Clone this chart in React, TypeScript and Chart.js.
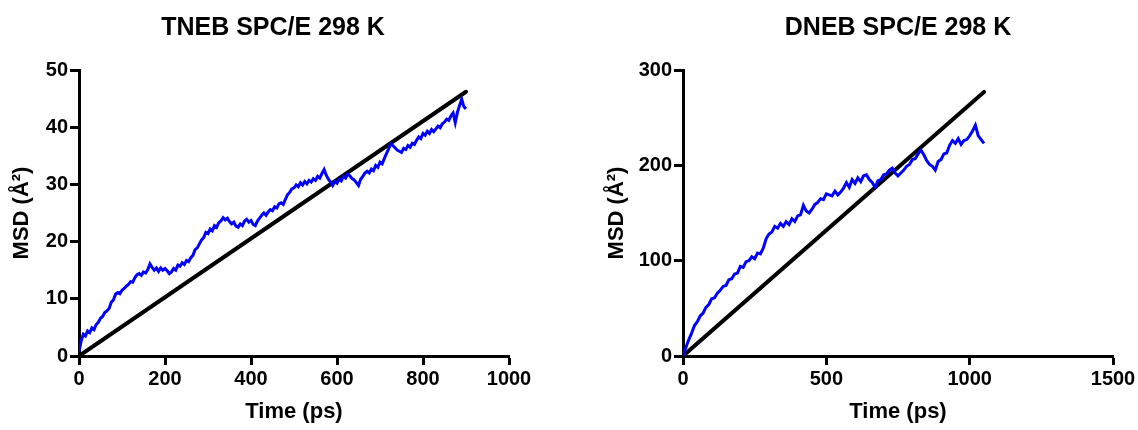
import { useEffect, useRef } from "react";
import { Chart, registerables } from "chart.js";

Chart.register(...registerables);

const FONT = "'Liberation Sans', Arial, Helvetica, sans-serif";

const X_TITLE = "Time (ps)";
const Y_TITLE = "MSD (Å²)";

// ---- TNEB panel ----
const TNEB_TITLE = "TNEB SPC/E 298 K";
const TNEB_DT = 5; // ps between samples
const TNEB_MSD = [
  0.8, 2.6, 3.8, 3.5, 4.4, 4.1, 4.9, 4.6, 5.5, 5.9,
  6.6, 6.9, 7.6, 7.9, 8.3, 9.4, 9.8, 10.8, 11.1, 10.9,
  11.5, 11.8, 12.2, 12.5, 13.0, 12.9, 13.7, 14.2, 14.4, 14.1,
  14.7, 14.5, 15.1, 16.1, 15.5, 15.0, 15.4, 14.8, 15.4, 15.0,
  15.3, 14.9, 14.4, 14.7, 15.3, 15.0, 15.9, 15.7, 16.3, 16.0,
  16.7, 16.5, 17.2, 17.6, 18.6, 18.9, 19.6, 20.3, 20.7, 21.6,
  21.4, 22.2, 21.9, 22.8, 22.5, 23.3, 23.6, 24.2, 23.8, 24.1,
  23.5, 23.1, 23.4, 22.7, 22.5, 23.1, 22.8, 23.6, 23.9, 23.4,
  23.7, 23.0, 22.8, 23.6, 24.1, 24.6, 25.0, 24.6, 25.2, 25.6,
  25.4, 26.1, 25.9, 26.6, 26.8, 26.5, 27.4, 28.2, 28.6, 29.2,
  29.4, 29.9, 29.6, 30.3, 29.9, 30.5, 30.1, 30.7, 30.4, 31.0,
  30.7, 31.4, 31.1, 31.9, 32.6, 31.6, 30.9, 30.4, 29.8, 30.5,
  30.2, 30.9, 30.6, 31.4, 31.1, 31.8, 31.5, 31.0, 30.8, 30.3,
  29.8, 30.9, 31.4, 32.0, 32.3, 32.0, 32.7, 32.4, 33.3, 33.0,
  33.9, 33.6, 34.5, 35.4, 36.2, 37.1, 36.8, 36.4, 36.0, 35.8,
  35.6, 36.3, 36.1, 36.8, 36.5, 37.2, 37.0, 37.7, 38.3, 38.0,
  38.9, 38.6, 39.3, 38.9, 39.6, 39.2, 39.7, 40.2, 39.9, 40.6,
  40.9, 41.4, 41.2, 42.0, 42.5, 40.8, 42.6, 43.8, 44.9, 43.6,
  43.2,
];
const TNEB_FIT_T = [0, 900];
const TNEB_FIT_MSD = [0, 46.2];
const TNEB_X_TICKS = [0, 200, 400, 600, 800, 1000];
const TNEB_Y_TICKS = [0, 10, 20, 30, 40, 50];

// ---- DNEB panel ----
const DNEB_TITLE = "DNEB SPC/E 298 K";
const DNEB_DT = 10; // ps between samples
const DNEB_MSD = [
  0, 9, 17, 24, 32, 36, 42, 45, 51, 54,
  60, 61, 66, 69, 73, 74, 80, 81, 86, 87,
  94, 93, 99, 100, 104, 102, 108, 107, 113, 123,
  128, 130, 136, 134, 139, 136, 141, 138, 144, 141,
  147, 148, 158, 152, 150, 154, 159, 161, 165, 164,
  170, 169, 168, 173, 169, 172, 176, 182, 177, 185,
  181, 187, 183, 189, 190, 185, 182, 177, 184, 185,
  190, 191, 195, 197, 192, 189, 192, 195, 199, 201,
  206, 207, 212, 216, 211, 205, 201, 199, 195, 204,
  206, 212, 213, 221, 226, 223, 228, 222, 226, 227,
  231, 236, 242, 231, 227, 223,
];
const DNEB_FIT_T = [0, 1050];
const DNEB_FIT_MSD = [0, 277];
const DNEB_X_TICKS = [0, 500, 1000, 1500];
const DNEB_Y_TICKS = [0, 100, 200, 300];

type PanelProps = {
  title: string;
  dt: number;
  msd: number[];
  fitT: number[];
  fitMsd: number[];
  xTicks: number[];
  yTicks: number[];
  left: number;
  width: number;
  yAxisWidth: number;
  padRight: number;
  yTitlePad: number;
  titleFull: boolean;
};

function Panel(p: PanelProps) {
  const ref = useRef<HTMLCanvasElement | null>(null);

  useEffect(() => {
    if (!ref.current) return;
    const tickFont = { family: FONT, size: 20, weight: "bold" as const };
    const axisTitleFont = { family: FONT, size: 22, weight: "bold" as const };
    const chart = new Chart(ref.current, {
      type: "line",
      data: {
        datasets: [
          {
            data: p.msd.map((v, i) => ({ x: i * p.dt, y: v })),
            borderColor: "#0000ff",
            borderWidth: 3,
            pointRadius: 0,
            tension: 0,
            fill: false,
          },
          {
            data: p.fitT.map((t, i) => ({ x: t, y: p.fitMsd[i] })),
            borderColor: "#000000",
            borderWidth: 4,
            borderCapStyle: "round",
            pointRadius: 0,
            fill: false,
          },
        ],
      },
      options: {
        animation: false,
        responsive: false,
        parsing: false,
        layout: { padding: 0 },
        plugins: {
          legend: { display: false },
          tooltip: { enabled: false },
          title: {
            display: true,
            text: p.title,
            color: "#000",
            fullSize: p.titleFull,
            font: { family: FONT, size: 25, weight: "bold" },
            padding: { top: 13, bottom: 27 },
          },
        },
        scales: {
          x: {
            type: "linear",
            min: p.xTicks[0],
            max: p.xTicks[p.xTicks.length - 1],
            afterBuildTicks: (s: any) => {
              s.ticks = p.xTicks.map((v) => ({ value: v }));
            },
            afterFit: (s: any) => {
              s.height = 74;
              s.paddingRight = p.padRight;
            },
            border: { display: true, color: "#000", width: 3 },
            grid: {
              display: true,
              drawOnChartArea: false,
              drawTicks: true,
              tickLength: 9,
              tickWidth: 3,
              tickColor: "#000",
            },
            ticks: {
              color: "#000",
              font: tickFont,
              padding: 2,
              maxRotation: 0,
              autoSkip: false,
              callback: (v: any) => String(v),
            },
            title: {
              display: true,
              text: X_TITLE,
              color: "#000",
              font: axisTitleFont,
              padding: { top: 0, bottom: 5 },
            },
          },
          y: {
            type: "linear",
            min: p.yTicks[0],
            max: p.yTicks[p.yTicks.length - 1],
            afterBuildTicks: (s: any) => {
              s.ticks = p.yTicks.map((v) => ({ value: v }));
            },
            afterFit: (s: any) => {
              s.width = p.yAxisWidth;
            },
            border: { display: true, color: "#000", width: 3 },
            grid: {
              display: true,
              drawOnChartArea: false,
              drawTicks: true,
              tickLength: 9,
              tickWidth: 3,
              tickColor: "#000",
            },
            ticks: {
              color: "#000",
              font: tickFont,
              padding: 2,
              autoSkip: false,
              callback: (v: any) => String(v),
            },
            title: {
              display: true,
              text: Y_TITLE,
              color: "#000",
              font: axisTitleFont,
              padding: { top: p.yTitlePad, bottom: 0 },
            },
          },
        },
      },
    } as any);
    return () => chart.destroy();
  }, []);

  return (
    <canvas
      ref={ref}
      width={p.width}
      height={430}
      style={{ position: "absolute", left: p.left, top: 0, width: p.width, height: 430 }}
    />
  );
}

export default function App() {
  return (
    <div
      style={{
        position: "absolute",
        left: 0,
        top: 0,
        width: 1138,
        height: 430,
        background: "#fff",
        overflow: "hidden",
      }}
    >
      <Panel
        title={TNEB_TITLE}
        dt={TNEB_DT}
        msd={TNEB_MSD}
        fitT={TNEB_FIT_T}
        fitMsd={TNEB_FIT_MSD}
        xTicks={TNEB_X_TICKS}
        yTicks={TNEB_Y_TICKS}
        left={0}
        width={546}
        yAxisWidth={79}
        padRight={37}
        yTitlePad={9}
        titleFull={true}
      />
      <Panel
        title={DNEB_TITLE}
        dt={DNEB_DT}
        msd={DNEB_MSD}
        fitT={DNEB_FIT_T}
        fitMsd={DNEB_FIT_MSD}
        xTicks={DNEB_X_TICKS}
        yTicks={DNEB_Y_TICKS}
        left={580}
        width={558}
        yAxisWidth={103}
        padRight={25}
        yTitlePad={24}
        titleFull={false}
      />
    </div>
  );
}
